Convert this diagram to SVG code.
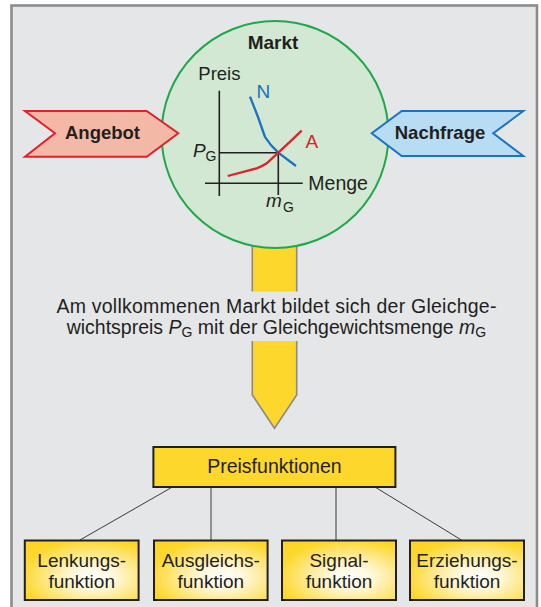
<svg xmlns="http://www.w3.org/2000/svg" width="541" height="607" viewBox="0 0 541 607">
<defs>
<style>
text{font-family:"Liberation Sans",Arial,Helvetica,sans-serif;fill:#231f20}
.b{font-weight:bold}
.box{fill:url(#yg);stroke:#231f20;stroke-width:2}
.lbl{font-size:19px;text-anchor:middle}
.ax{stroke:#231f20;stroke-width:1.6;fill:none}
.con{stroke:#3a3a3a;stroke-width:1;fill:none}
</style>
<radialGradient id="yg" cx="0.6" cy="0.62" r="0.75" fx="0.6" fy="0.62">
<stop offset="0" stop-color="#ffffff"/>
<stop offset="0.25" stop-color="#fff8dc"/>
<stop offset="0.85" stop-color="#fdd72b"/>
<stop offset="1" stop-color="#fdd52a"/>
</radialGradient>
</defs>
<rect x="0" y="0" width="541" height="607" fill="#ffffff"/>
<rect id="frame" x="11.5" y="5.5" width="525.5" height="612" fill="#e5e6e8" stroke="#8c8c8c" stroke-width="2.6"/>

<g id="flow-arrow">
<path d="M252.3,232 L296.7,232 L296.7,395 L274.5,428.3 L252.3,395 Z" fill="#fdd72b" stroke="#8a8a8a" stroke-width="1.6"/>
</g>

<g id="markt">
<circle cx="275" cy="134.5" r="113.5" fill="#d2e8d2" stroke="#1ea84a" stroke-width="2"/>
<text class="b" x="273" y="48.7" font-size="19" text-anchor="middle">Markt</text>
<g id="chart">
<path class="ax" d="M219.3,90.7 V196 M205,183.3 H302.7 M219.3,152.7 H278.3 V195"/>
<path d="M250,96.7 L258,117 L265,137 Q270,145 278.3,152.7 L296,166" fill="none" stroke="#1a72c0" stroke-width="2.3"/>
<path d="M227.7,176 L256.7,168.3 Q263,166 266.7,163.3 L278.3,152.7 Q290,142 301.7,130.7" fill="none" stroke="#e0202a" stroke-width="2.3"/>
<text x="198.3" y="80.3" font-size="18.5">Preis</text>
<text x="256.5" y="97.7" font-size="19" style="fill:#1a72c0">N</text>
<text x="305.5" y="148.3" font-size="19" style="fill:#e0202a">A</text>
<text x="308.3" y="190" font-size="19.5">Menge</text>
<text x="193" y="156.7" font-size="19" font-style="italic">P</text>
<text x="205.5" y="160.5" font-size="14">G</text>
<text x="266" y="206.7" font-size="19" font-style="italic">m</text>
<text x="283" y="211.5" font-size="14">G</text>
</g>
</g>

<g id="angebot">
<path d="M25,111 L146.7,111 L178.3,133.3 L146.7,156.7 L25,156.7 L55,133.3 Z" fill="#f4b9a6" stroke="#e0202a" stroke-width="2"/>
<text class="b" x="102.5" y="139" font-size="18.5" text-anchor="middle">Angebot</text>
</g>

<g id="nachfrage">
<path d="M371.7,133.3 L401.7,111 L523.3,111 L493.3,133.3 L523.3,156 L401.7,156 Z" fill="#b7dcf4" stroke="#1a72c0" stroke-width="2"/>
<text class="b" x="440" y="139" font-size="18.5" text-anchor="middle">Nachfrage</text>
</g>

<g id="statement">
<rect x="50" y="291.5" width="452" height="49.5" fill="#e5e6e8"/>
<text x="276.4" y="313" font-size="19.5" text-anchor="middle" textLength="440" lengthAdjust="spacing">Am vollkommenen Markt bildet sich der Gleichge-</text>
<text x="276.4" y="333.8" font-size="19.5" text-anchor="middle">wichtspreis <tspan font-style="italic">P</tspan><tspan font-size="14" dy="3">G</tspan><tspan dy="-3"> mit der Gleichgewichtsmenge </tspan><tspan font-style="italic">m</tspan><tspan font-size="14" dy="3">G</tspan></text>
</g>

<g id="connectors">
<line class="con" x1="172.4" y1="487" x2="80" y2="540"/>
<line class="con" x1="211" y1="487" x2="211" y2="540"/>
<line class="con" x1="336" y1="487" x2="336" y2="540"/>
<line class="con" x1="375" y1="487" x2="461.4" y2="540"/>
</g>

<g id="preisfunktionen">
<rect x="153.4" y="447" width="242" height="40" fill="#fdd72b" stroke="#231f20" stroke-width="2"/>
<text x="274.4" y="473" font-size="19.5" text-anchor="middle">Preisfunktionen</text>
</g>

<g id="lenkungsfunktion">
<rect class="box" x="24.8" y="540.5" width="113.8" height="59.5"/>
<text class="lbl" x="81.7" y="567">Lenkungs-</text>
<text class="lbl" x="81.7" y="588">funktion</text>
</g>
<g id="ausgleichsfunktion">
<rect class="box" x="154" y="540.5" width="113.6" height="59.5"/>
<text class="lbl" x="210.8" y="567">Ausgleichs-</text>
<text class="lbl" x="210.8" y="588">funktion</text>
</g>
<g id="signalfunktion">
<rect class="box" x="282" y="540.5" width="114" height="59.5"/>
<text class="lbl" x="339" y="567">Signal-</text>
<text class="lbl" x="339" y="588">funktion</text>
</g>
<g id="erziehungsfunktion">
<rect class="box" x="410" y="540.5" width="114" height="59.5"/>
<text class="lbl" x="467" y="567">Erziehungs-</text>
<text class="lbl" x="467" y="588">funktion</text>
</g>
</svg>
